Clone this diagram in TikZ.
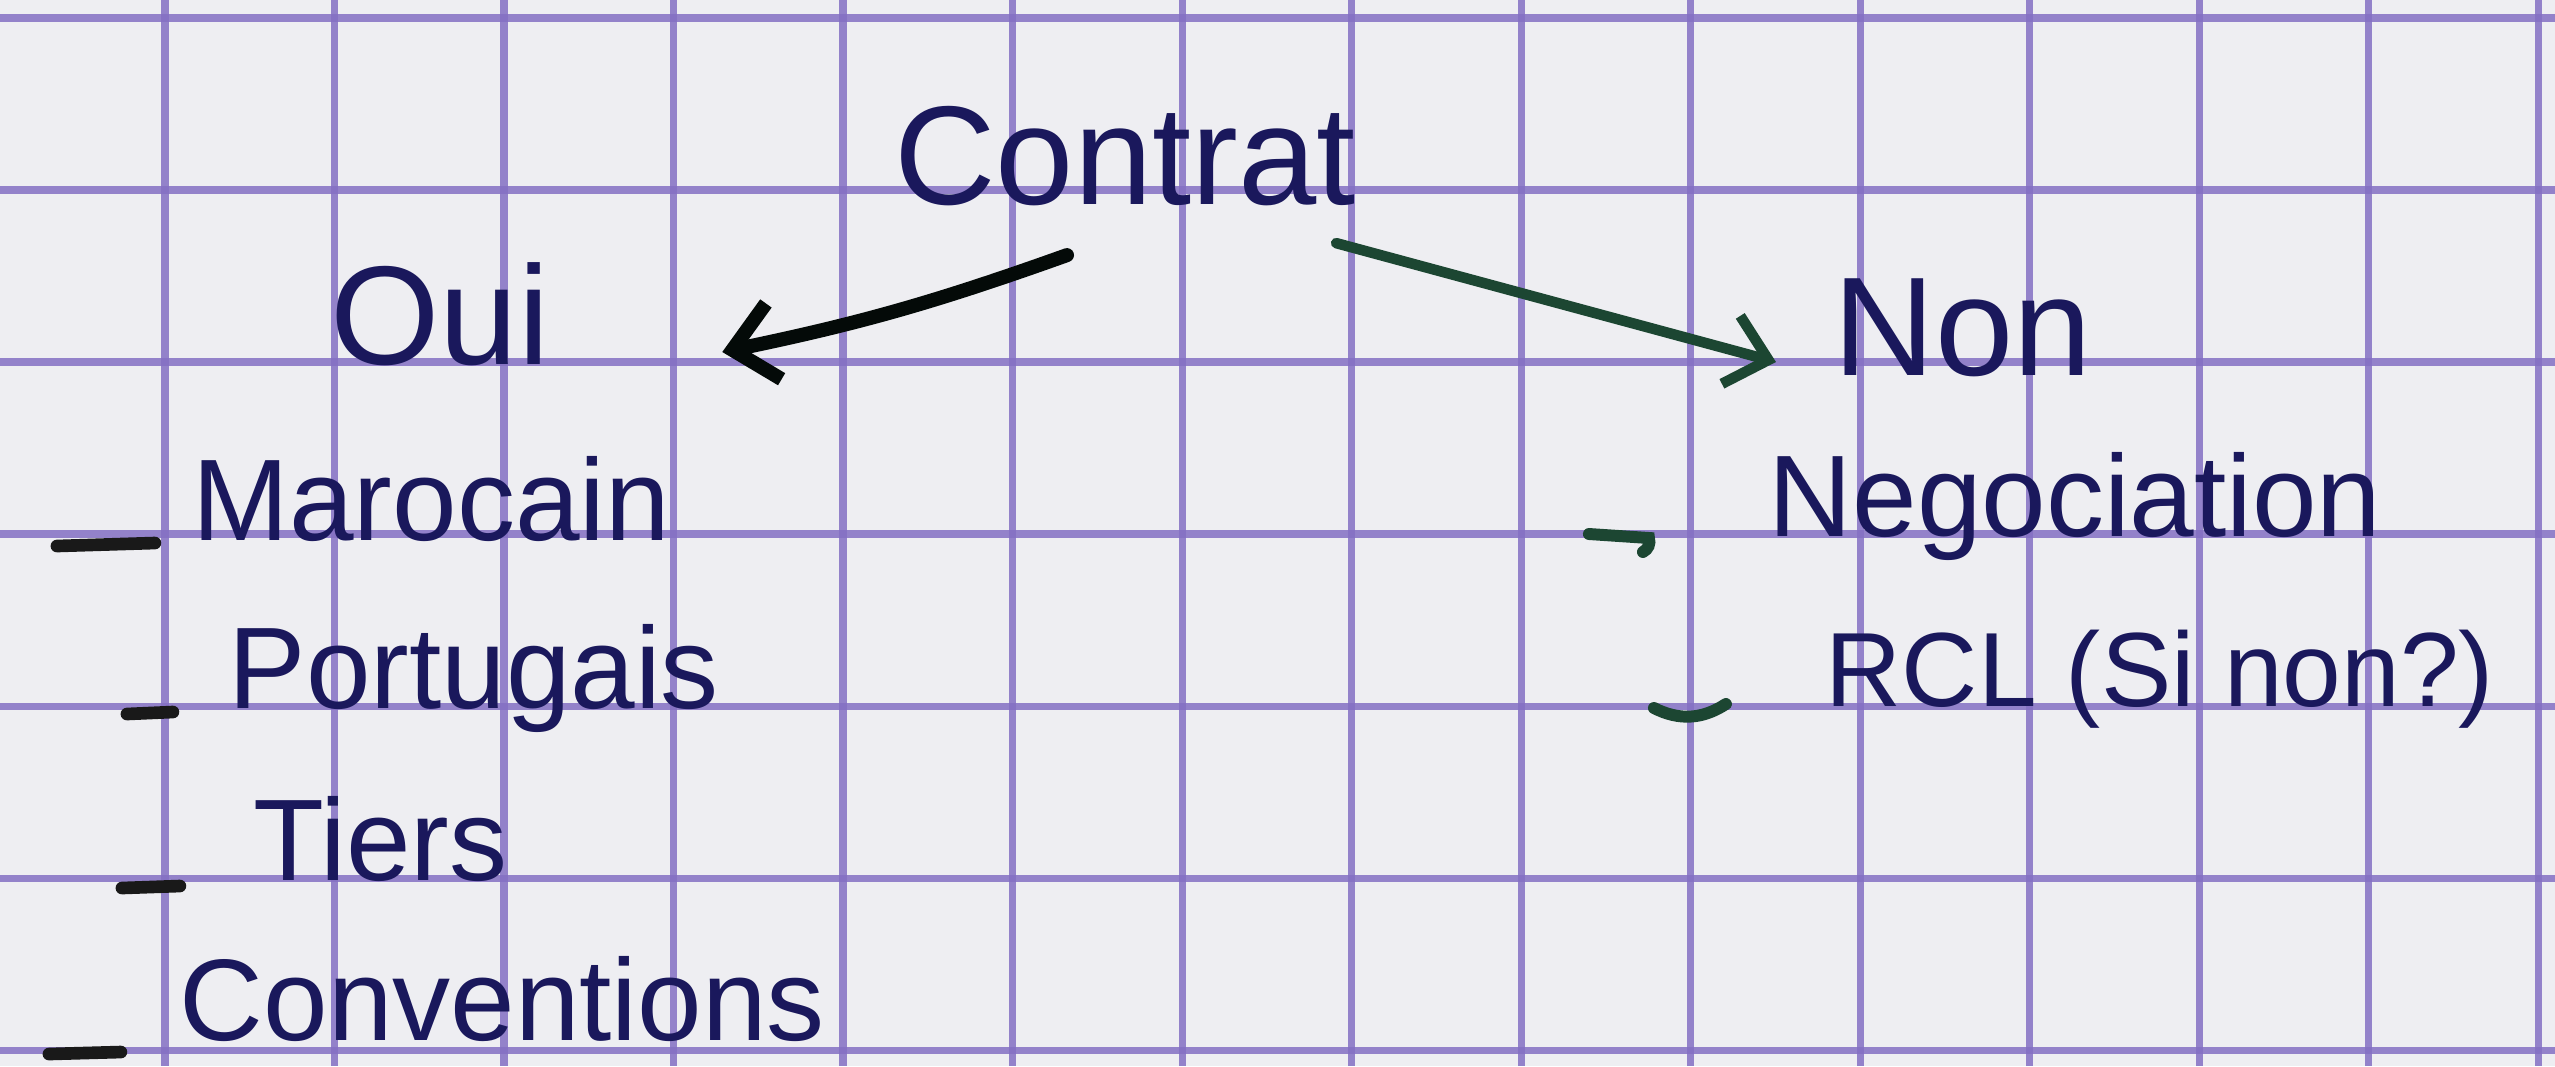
\documentclass[tikz,border=0pt]{standalone}
\usepackage{fontspec}
\setmainfont{Liberation Sans}
\usepackage{xcolor}
\usetikzlibrary{arrows.meta}
\definecolor{ink}{RGB}{26,24,92}
\definecolor{greenink}{RGB}{28,70,50}
\definecolor{gridrule}{RGB}{132,112,196}
\definecolor{paper}{RGB}{238,238,242}

\begin{document}
\begin{tikzpicture}[
    x=0.01cm, y=-0.01cm,
    % --- text styles ---
    head/.style={font=\fontsize{40}{48}\selectfont, text=ink,
      inner sep=0pt, anchor=base},
    item/.style={font=\fontsize{33}{40}\selectfont, text=ink,
      inner sep=0pt, anchor=base west},
    % --- strokes ---
    sheetline/.style={draw=gridrule, line width=2pt, opacity=.85},
    bullet/.style={draw=black!90, line width=3.6pt, line cap=round},
    gbullet/.style={draw=greenink, line width=3.4pt, line cap=round},
    arr/.style={-{Straight Barb[length=12pt, width=22pt]},
      line width=4pt, line cap=round, draw=black!85!greenink},
    garr/.style={-{Straight Barb[length=11pt, width=20pt]},
      line width=3pt, line cap=round, draw=greenink},
  ]

  % ============== PAPER AND GRID ==============
  \fill[paper] (0,0) rectangle (2555,1066);
  \useasboundingbox (0,0) rectangle (2555,1066);
  \foreach \gx in {0,...,14}
    \draw[sheetline] (165+169.5*\gx,0) -- (165+169.5*\gx,1066);
  \foreach \gy in {0,...,6}
    \draw[sheetline] (0,18+172*\gy) -- (2555,18+172*\gy);

  % ============== TOP ==============
  \node[head] (contrat) at (1125,204) {Contrat};
  \node[head] (oui) at (440,364) {Oui};
  \node[head, anchor=base west] (non) at (1833,375) {Non};

  % ============== LEFT LIST ==============
  \node[item] (maroc) at (192,540) {Marocain};
  \node[item] (portu) at (228,708) {Portugais};
  \node[item] (tiers) at (253,880) {Tiers};
  \node[item] (conv)  at (179,1040) {Conventions};

  % ============== RIGHT LIST ==============
  \node[item] (nego) at (1768,536) {Negociation};
  \node[item, font=\fontsize{30}{36}\selectfont] (rcl) at (1825,706) {RCL (Si non?)};

  % ============== ARROWS ==============
  \draw[arr] ([xshift=-0.58cm, yshift=-0.49cm]contrat.south)
    to[bend left=4] ([xshift=1.72cm, yshift=0.12cm]oui.base east);
  \draw[garr] ([xshift=2.11cm, yshift=-0.37cm]contrat.south)
    -- ([xshift=-0.57cm, yshift=0.13cm]non.base west);

  % bullets
  \draw[bullet] ([xshift=-1.35cm, yshift=-0.06cm]maroc.base west) -- ++(98,-3);
  \draw[bullet] ([xshift=-1.01cm, yshift=-0.06cm]portu.base west) -- ++(46,-2);
  \draw[bullet] ([xshift=-1.31cm, yshift=-0.08cm]tiers.base west) -- ++(58,-2);
  \draw[bullet] ([xshift=-1.30cm, yshift=-0.14cm]conv.base west) -- ++(72,-2);
  \draw[gbullet] ([xshift=-1.79cm, yshift=0.02cm]nego.base west)
    -- ++(60,4) to[bend left=40] ++(-6,14);
  \draw[gbullet] ([xshift=-1.71cm, yshift=-0.02cm]rcl.base west)
    to[bend right=30] ++(72,-4);

\end{tikzpicture}
\end{document}
